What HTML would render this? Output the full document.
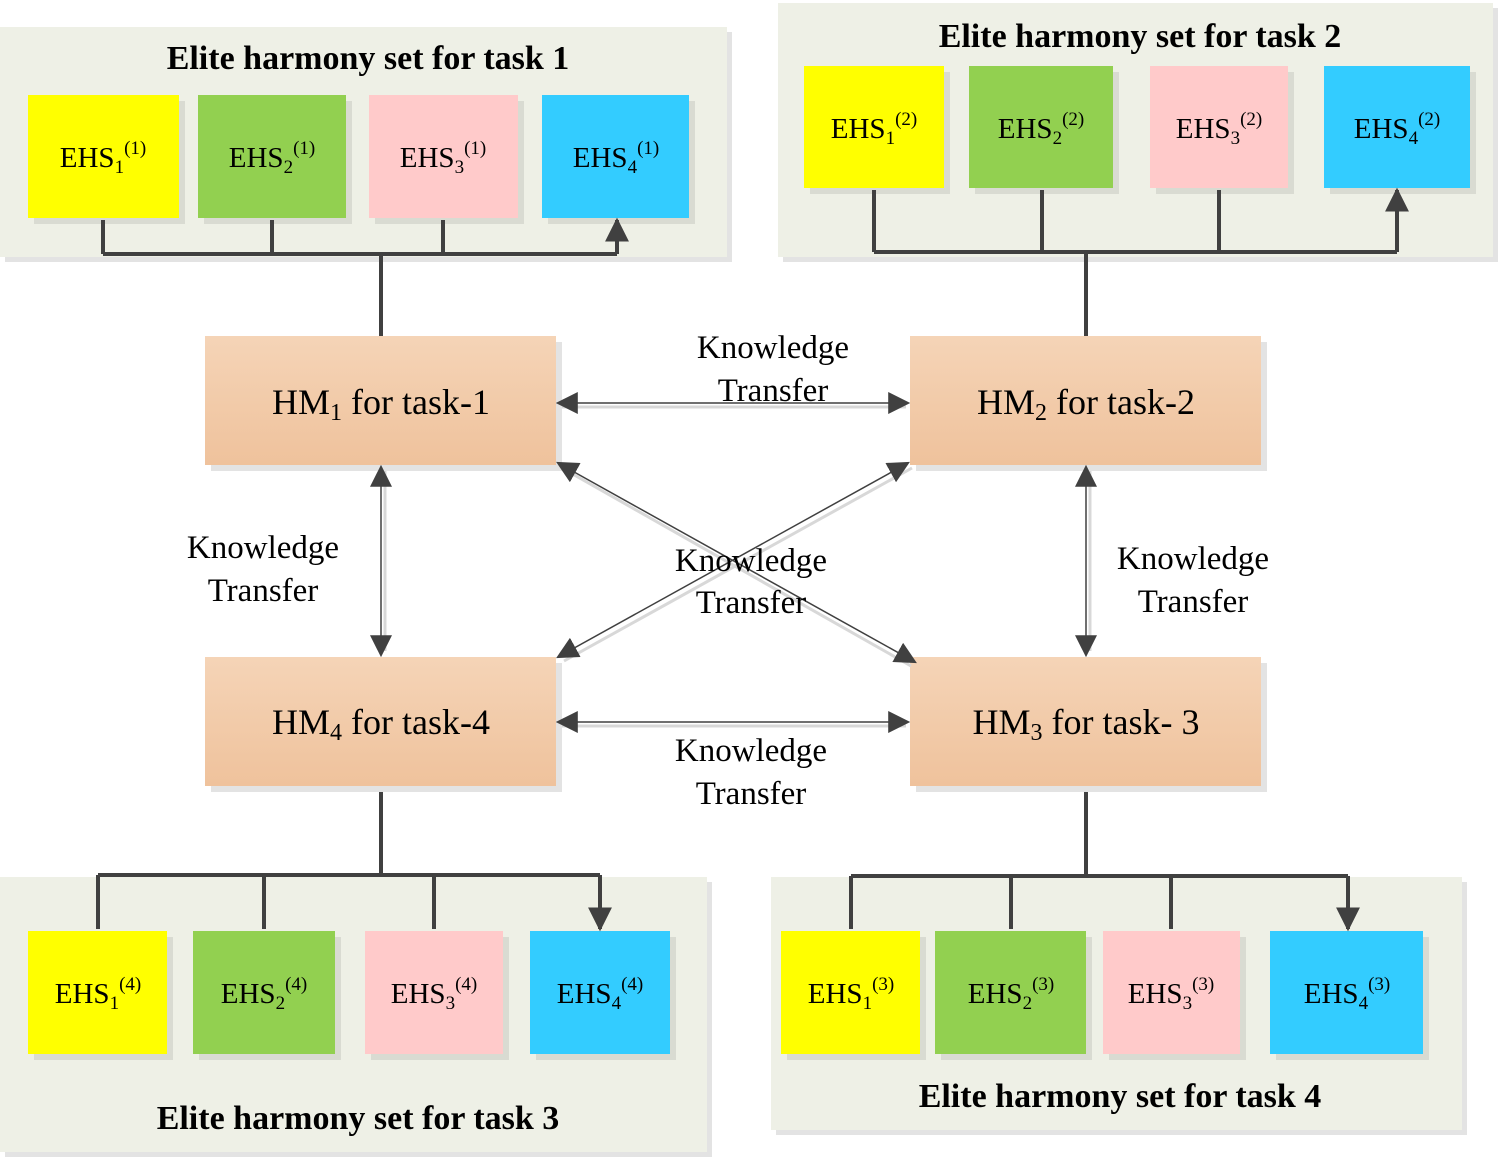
<!DOCTYPE html>
<html><head><meta charset="utf-8"><style>
html,body{margin:0;padding:0;background:#fff;}
svg{display:block;font-family:"Liberation Serif",serif;}
</style></head><body>
<svg width="1498" height="1157" viewBox="0 0 1498 1157" xmlns="http://www.w3.org/2000/svg">
<defs>
<linearGradient id="hm" x1="0" y1="0" x2="0" y2="1"><stop offset="0" stop-color="#f5d4b7"/><stop offset="1" stop-color="#efc29c"/></linearGradient>
<marker id="a" viewBox="0 0 10 10" refX="9" refY="5" markerWidth="24" markerHeight="24" markerUnits="userSpaceOnUse" orient="auto-start-reverse"><path d="M0,0L10,5L0,10z" fill="#404040"/></marker>
<marker id="b" viewBox="0 0 10 10" refX="9" refY="5" markerWidth="22" markerHeight="22" markerUnits="userSpaceOnUse" orient="auto-start-reverse"><path d="M0,0L10,5L0,10z" fill="#404040"/></marker>
</defs>
<!-- panels -->
<g fill="#e3e3e3">
<rect x="5" y="32" width="727" height="230"/><rect x="783" y="8" width="715" height="254"/>
<rect x="5" y="882" width="707" height="275"/><rect x="776" y="882" width="691" height="253"/>
</g>
<g fill="#eef0e6">
<rect x="0" y="27" width="727" height="230"/><rect x="778" y="3" width="715" height="254"/>
<rect x="0" y="877" width="707" height="275"/><rect x="771" y="877" width="691" height="253"/>
</g>
<g font-weight="bold" font-size="34" text-anchor="middle" fill="#000">
<text x="368" y="69">Elite harmony set for task 1</text>
<text x="1140" y="47">Elite harmony set for task 2</text>
<text x="358" y="1129">Elite harmony set for task 3</text>
<text x="1120" y="1107">Elite harmony set for task 4</text>
</g>
<!-- EHS boxes -->
<g id="boxes">
<g fill="#d9dbd2">
<rect x="34" y="101" width="151" height="123"/><rect x="204" y="101" width="148" height="123"/><rect x="375" y="101" width="149" height="123"/><rect x="548" y="101" width="147" height="123"/>
<rect x="810" y="72" width="140" height="122"/><rect x="975" y="72" width="144" height="122"/><rect x="1156" y="72" width="138" height="122"/><rect x="1330" y="72" width="146" height="122"/>
<rect x="34" y="937" width="139" height="123"/><rect x="199" y="937" width="142" height="123"/><rect x="371" y="937" width="138" height="123"/><rect x="536" y="937" width="140" height="123"/>
<rect x="787" y="937" width="139" height="123"/><rect x="941" y="937" width="151" height="123"/><rect x="1109" y="937" width="137" height="123"/><rect x="1276" y="937" width="153" height="123"/>
</g>
<rect x="28" y="95" width="151" height="123" fill="#ffff00"/><rect x="198" y="95" width="148" height="123" fill="#92d050"/><rect x="369" y="95" width="149" height="123" fill="#ffcaca"/><rect x="542" y="95" width="147" height="123" fill="#33ccff"/>
<rect x="804" y="66" width="140" height="122" fill="#ffff00"/><rect x="969" y="66" width="144" height="122" fill="#92d050"/><rect x="1150" y="66" width="138" height="122" fill="#ffcaca"/><rect x="1324" y="66" width="146" height="122" fill="#33ccff"/>
<rect x="28" y="931" width="139" height="123" fill="#ffff00"/><rect x="193" y="931" width="142" height="123" fill="#92d050"/><rect x="365" y="931" width="138" height="123" fill="#ffcaca"/><rect x="530" y="931" width="140" height="123" fill="#33ccff"/>
<rect x="781" y="931" width="139" height="123" fill="#ffff00"/><rect x="935" y="931" width="151" height="123" fill="#92d050"/><rect x="1103" y="931" width="137" height="123" fill="#ffcaca"/><rect x="1270" y="931" width="153" height="123" fill="#33ccff"/>
</g>
<g font-size="29" text-anchor="middle" fill="#000">
<text x="103" y="167">EHS<tspan font-size="19" dy="6">1</tspan><tspan font-size="19" dy="-19">(1)</tspan></text>
<text x="272" y="167">EHS<tspan font-size="19" dy="6">2</tspan><tspan font-size="19" dy="-19">(1)</tspan></text>
<text x="443" y="167">EHS<tspan font-size="19" dy="6">3</tspan><tspan font-size="19" dy="-19">(1)</tspan></text>
<text x="616" y="167">EHS<tspan font-size="19" dy="6">4</tspan><tspan font-size="19" dy="-19">(1)</tspan></text>
<text x="874" y="138">EHS<tspan font-size="19" dy="6">1</tspan><tspan font-size="19" dy="-19">(2)</tspan></text>
<text x="1041" y="138">EHS<tspan font-size="19" dy="6">2</tspan><tspan font-size="19" dy="-19">(2)</tspan></text>
<text x="1219" y="138">EHS<tspan font-size="19" dy="6">3</tspan><tspan font-size="19" dy="-19">(2)</tspan></text>
<text x="1397" y="138">EHS<tspan font-size="19" dy="6">4</tspan><tspan font-size="19" dy="-19">(2)</tspan></text>
<text x="98" y="1003">EHS<tspan font-size="19" dy="6">1</tspan><tspan font-size="19" dy="-19">(4)</tspan></text>
<text x="264" y="1003">EHS<tspan font-size="19" dy="6">2</tspan><tspan font-size="19" dy="-19">(4)</tspan></text>
<text x="434" y="1003">EHS<tspan font-size="19" dy="6">3</tspan><tspan font-size="19" dy="-19">(4)</tspan></text>
<text x="600" y="1003">EHS<tspan font-size="19" dy="6">4</tspan><tspan font-size="19" dy="-19">(4)</tspan></text>
<text x="851" y="1003">EHS<tspan font-size="19" dy="6">1</tspan><tspan font-size="19" dy="-19">(3)</tspan></text>
<text x="1011" y="1003">EHS<tspan font-size="19" dy="6">2</tspan><tspan font-size="19" dy="-19">(3)</tspan></text>
<text x="1171" y="1003">EHS<tspan font-size="19" dy="6">3</tspan><tspan font-size="19" dy="-19">(3)</tspan></text>
<text x="1347" y="1003">EHS<tspan font-size="19" dy="6">4</tspan><tspan font-size="19" dy="-19">(3)</tspan></text>
</g>
<!-- tree connectors -->
<g stroke="#404040" stroke-width="4" fill="none">
<path d="M381,337V254M103,254H617"/>
<path d="M103,254V220M272,254V220M443,254V220M617,254V220" marker-end="url(#a)"/>
<path d="M1086,337V252M874,252H1397"/>
<path d="M874,252V190M1042,252V190M1219,252V190M1397,252V190" marker-end="url(#a)"/>
<path d="M381,786V875M98,875H600"/>
<path d="M98,875V929M264,875V929M434,875V929M600,875V929" marker-end="url(#a)"/>
<path d="M1086,786V876M851,876H1348"/>
<path d="M851,876V929M1011,876V929M1171,876V929M1348,876V929" marker-end="url(#a)"/>
</g>
<!-- HM boxes -->
<g fill="#e3e3e3">
<rect x="211" y="342" width="351" height="129"/><rect x="916" y="342" width="351" height="129"/>
<rect x="211" y="663" width="351" height="129"/><rect x="916" y="663" width="351" height="129"/>
</g>
<g fill="url(#hm)">
<rect x="205" y="336" width="351" height="129"/><rect x="910" y="336" width="351" height="129"/>
<rect x="205" y="657" width="351" height="129"/><rect x="910" y="657" width="351" height="129"/>
</g>
<g font-size="36" text-anchor="middle" fill="#000">
<text x="381" y="414">HM<tspan font-size="24" dy="6">1</tspan><tspan dy="-6"> for task-1</tspan></text>
<text x="1086" y="414">HM<tspan font-size="24" dy="6">2</tspan><tspan dy="-6"> for task-2</tspan></text>
<text x="381" y="734">HM<tspan font-size="24" dy="6">4</tspan><tspan dy="-6"> for task-4</tspan></text>
<text x="1086" y="734">HM<tspan font-size="24" dy="6">3</tspan><tspan dy="-6"> for task- 3</tspan></text>
</g>
<!-- knowledge transfer arrows -->
<g stroke="#d8d8d8" stroke-width="3" fill="none">
<path d="M562,407H906M562,726H906M385,471V651M1090,471V651M562,468L911,666M912,468L564,661"/>
</g>
<g stroke="#404040" stroke-width="1.5" fill="none" marker-start="url(#b)" marker-end="url(#b)">
<path d="M558,403H908"/>
<path d="M558,722H908"/>
<path d="M381,467V655"/>
<path d="M1086,467V655"/>
<path d="M558,463L915,662"/>
<path d="M908,463L558,657"/>
</g>
<g font-size="33" text-anchor="middle" fill="#000">
<text x="773" y="358">Knowledge</text><text x="773" y="401">Transfer</text>
<text x="263" y="558">Knowledge</text><text x="263" y="601">Transfer</text>
<text x="751" y="571">Knowledge</text><text x="751" y="613">Transfer</text>
<text x="1193" y="569">Knowledge</text><text x="1193" y="612">Transfer</text>
<text x="751" y="761">Knowledge</text><text x="751" y="804">Transfer</text>
</g>
</svg>
</body></html>
